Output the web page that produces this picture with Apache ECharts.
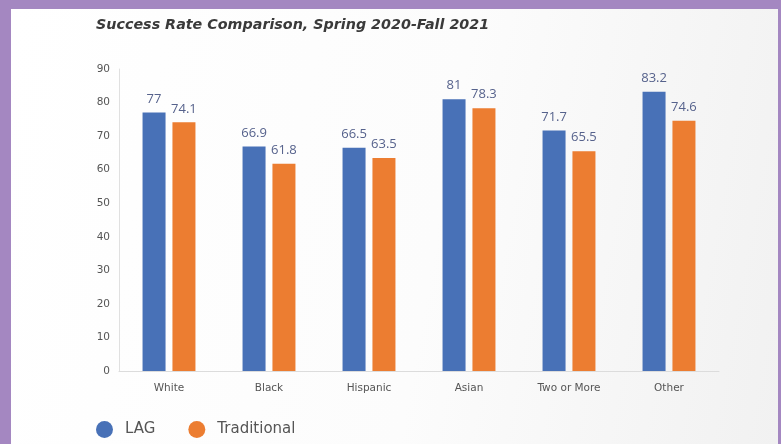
<!DOCTYPE html>
<html>
<head>
<meta charset="utf-8">
<script src="https://cdn.jsdelivr.net/npm/echarts@6/dist/echarts.min.js"></script>
<style>
    html, body { margin: 0; padding: 0; }
    #frame { position: relative; width: 781px; height: 444px; background: #a487c1; overflow: hidden; }
    #panel { position: absolute; left: 11px; top: 9px; width: 767px; height: 440px;
             background: linear-gradient(100deg, #ffffff 0%, #fcfcfc 55%, #f1f1f1 100%); }
    #main { position: absolute; left: 0; top: 0; width: 781px; height: 444px; }
</style>
</head>
<body>
<div id="frame">
    <div id="panel"></div>
    <div id="main"></div>
</div>
<script>
var categories = ['White', 'Black', 'Hispanic', 'Asian', 'Two or More', 'Other'];
var lagValues = [77, 66.9, 66.5, 81, 71.7, 83.2];
var traditionalValues = [74.1, 61.8, 63.5, 78.3, 65.5, 74.6];

var fontName = '"Open Sans", Lato, sans-serif';
var wideFont = '"DejaVu Sans", "Open Sans", sans-serif';
var labelStyle = {
    show: true,
    position: 'top',
    distance: 7,
    color: '#56628c',
    fontSize: 13,
    fontFamily: fontName
};

var myChart = echarts.init(document.getElementById('main'), null, {renderer: 'canvas'});
var option = {
    backgroundColor: 'transparent',
    animation: false,
    title: {
        text: 'Success Rate Comparison, Spring 2020-Fall 2021',
        left: 91,
        top: 13,
        textStyle: {
            fontFamily: wideFont,
            fontStyle: 'italic',
            fontWeight: 'bold',
            fontSize: 14.3,
            color: '#3a3a3a'
        }
    },
    legend: {
        left: 91,
        top: 416,
        icon: 'circle',
        itemWidth: 17,
        itemHeight: 17,
        itemGap: 33,
        textStyle: {
            fontFamily: wideFont,
            fontSize: 15,
            color: '#555555',
            padding: [0, 0, 0, 7]
        },
        data: ['LAG', 'Traditional']
    },
    grid: {
        left: 119,
        right: 62,
        top: 69,
        bottom: 73
    },
    xAxis: {
        type: 'category',
        data: categories,
        axisTick: {show: false},
        axisLine: {lineStyle: {color: '#dcdcdc', width: 1}},
        axisLabel: {
            margin: 12,
            fontFamily: wideFont,
            fontSize: 10.5,
            color: '#555555'
        }
    },
    yAxis: {
        type: 'value',
        min: 0,
        max: 90,
        interval: 10,
        splitLine: {show: false},
        axisTick: {show: false},
        axisLine: {show: true, lineStyle: {color: '#e0e0e0', width: 1}},
        axisLabel: {
            margin: 9,
            fontFamily: wideFont,
            fontSize: 10.5,
            color: '#555555'
        }
    },
    series: [
        {
            name: 'LAG',
            type: 'bar',
            data: lagValues,
            barWidth: 23,
            barGap: '30%',
            itemStyle: {color: '#4871b7'},
            label: labelStyle
        },
        {
            name: 'Traditional',
            type: 'bar',
            data: traditionalValues,
            barWidth: 23,
            itemStyle: {color: '#ec7d31'},
            label: labelStyle
        }
    ]
};
myChart.setOption(option);
</script>
</body>
</html>
